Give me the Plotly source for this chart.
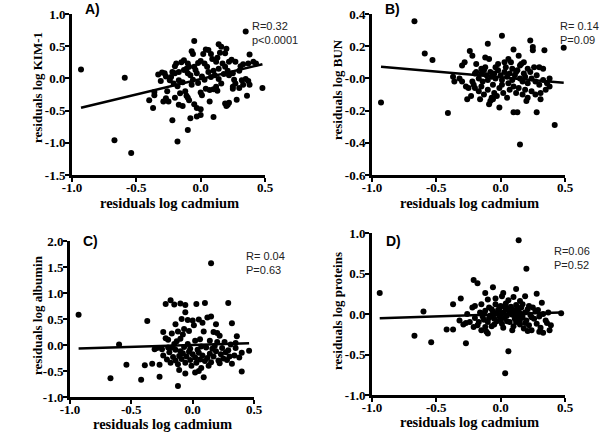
import plotly.graph_objects as go

# ---------------- data ----------------
a_x = [-0.93,-0.59,-0.67,-0.54,-0.40,-0.37,-0.36,-0.22,-0.18,-0.10,0.35,0.48,0.38,0.41,0.36,
       -0.05,-0.07,-0.06,0.14,0.16,0.20,0.06,0.02,0.19,0.24,0.22,0.33,0.37,0.43,0.09,
       0.12,0.13,0.00,-0.02,-0.15,-0.19,-0.20,-0.10,-0.09,-0.28,-0.30,-0.27,-0.22,-0.20,-0.17,
       -0.13,-0.11,-0.10,-0.05,-0.04,-0.03,0.03,0.05,0.06,0.14,0.17,0.19,-0.24,-0.21,-0.17,
       0.01,0.03,0.11,0.14,0.25,0.26,0.27,0.25,0.32,0.35,0.37,0.38,0.25,0.30,0.04,
       0.07,0.10,0.13,0.00,0.01,-0.12,-0.10,-0.09,-0.11,-0.16,-0.36,-0.29,-0.27,-0.25,-0.17,
       -0.14,-0.03,0.00,0.07,0.19,0.21,0.22,0.20,-0.03,0.00,0.10,-0.08,-0.31,-0.33,-0.26,
       -0.18,-0.14,-0.07,-0.02,0.08,0.10,0.18,0.21,0.30,0.31,0.27,0.08,-0.13,-0.08,-0.06,
       0.16,0.12,0.33,0.28,-0.05,-0.20,0.15,0.04,-0.23,0.22]
a_y = [0.14,0.01,-0.96,-1.16,-0.34,-0.46,-0.21,-0.65,-0.98,-0.80,0.73,-0.15,0.37,0.26,-0.27,
       0.58,0.42,0.38,0.53,0.49,0.46,0.44,0.38,0.39,0.29,0.26,0.22,0.23,0.23,0.30,
       0.26,0.32,0.27,0.24,0.25,0.23,0.19,0.23,0.18,0.08,0.09,0.03,0.10,0.08,0.10,
       0.13,0.15,0.08,0.18,0.13,0.08,0.23,0.18,0.10,0.15,0.23,0.18,-0.03,-0.08,-0.03,
       0.03,-0.02,0.05,-0.01,0.08,-0.02,-0.08,-0.13,-0.03,-0.01,-0.04,-0.10,-0.16,-0.15,-0.16,
       -0.18,-0.17,-0.19,-0.22,-0.26,-0.20,-0.30,-0.34,-0.27,-0.23,-0.26,-0.36,-0.31,-0.36,-0.41,
       -0.43,-0.46,-0.48,-0.36,-0.39,-0.41,-0.38,-0.43,-0.59,-0.57,-0.60,-0.62,-0.04,0.06,-0.20,
       -0.12,-0.06,-0.10,-0.07,0.02,0.12,0.07,0.12,0.12,0.19,0.26,0.38,0.28,0.05,-0.02,
       -0.08,-0.13,-0.10,-0.33,-0.40,-0.30,0.40,0.45,0.02,0.05]

b_x = [-0.93,-0.67,-0.59,-0.53,-0.41,0.15,0.42,0.49,0.01,-0.10,0.23,0.25,0.25,0.34,0.10,
       0.13,0.28,0.10,-0.37,-0.36,-0.30,-0.28,-0.24,-0.22,-0.19,-0.15,-0.12,-0.09,-0.02,0.03,
       0.06,0.08,0.15,0.18,0.21,0.30,0.33,-0.30,-0.27,-0.25,-0.22,-0.20,-0.17,-0.15,-0.13,
       -0.11,-0.10,-0.08,-0.07,-0.05,-0.04,-0.02,0.00,0.01,0.03,0.05,0.07,0.09,0.11,0.13,
       0.15,0.17,0.19,0.21,0.24,0.27,0.30,0.33,0.36,0.38,-0.26,-0.23,-0.20,-0.17,-0.15,
       -0.13,-0.10,-0.08,-0.07,-0.05,-0.03,-0.01,0.01,0.02,0.05,0.07,0.10,0.12,0.14,0.17,
       0.19,0.21,0.24,0.27,0.31,0.35,-0.09,-0.06,0.20,-0.19,-0.12,-0.04,0.04,0.12,0.16,
       0.23,0.28,-0.14,0.06,0.18,-0.32,0.38,-0.06,0.09,-0.21,0.26,0.14,-0.01,0.31,-0.16]
b_y = [-0.15,0.355,0.155,0.115,-0.215,-0.41,-0.29,0.19,0.265,0.215,0.235,0.195,0.175,0.175,0.18,
       -0.21,-0.21,-0.21,0.01,-0.02,0.08,0.10,0.17,0.14,0.09,0.06,0.13,0.12,0.09,0.10,
       0.12,0.10,0.08,0.10,0.06,0.07,0.06,-0.02,-0.05,-0.06,-0.02,0.03,0.00,0.03,0.05,
       0.02,-0.01,0.04,0.01,0.03,0.00,0.05,0.02,-0.01,0.04,0.01,0.03,-0.01,0.02,0.05,
       0.00,-0.02,0.01,-0.03,0.00,-0.02,-0.04,-0.01,-0.03,-0.05,-0.13,-0.11,-0.06,-0.08,-0.05,
       -0.10,-0.07,-0.14,-0.12,-0.09,-0.11,-0.06,-0.04,-0.09,-0.12,-0.07,-0.05,-0.09,-0.06,-0.10,
       -0.07,-0.12,-0.08,-0.10,-0.09,-0.07,-0.16,-0.13,-0.14,0.04,0.07,0.07,0.07,0.04,0.09,
       0.04,0.02,-0.02,-0.03,0.03,0.00,0.00,-0.04,0.06,-0.04,0.07,0.14,-0.18,-0.13,-0.13]

c_x = [-0.93,-0.60,-0.54,-0.67,-0.42,-0.37,-0.39,0.15,-0.18,-0.22,-0.15,-0.10,-0.06,0.03,0.10,
       0.29,-0.06,-0.09,-0.04,0.00,0.05,0.12,0.15,-0.14,0.32,-0.24,-0.17,-0.12,-0.07,-0.03,
       0.09,0.17,0.20,0.22,-0.22,-0.20,-0.13,-0.10,0.02,0.06,0.14,0.20,0.36,-0.31,-0.29,
       -0.20,-0.14,-0.07,-0.02,0.07,0.16,0.29,0.35,-0.33,-0.27,-0.27,-0.24,-0.21,-0.18,-0.16,
       -0.14,-0.12,-0.11,-0.09,-0.08,-0.06,-0.05,-0.03,-0.02,0.00,0.02,0.03,0.05,0.06,0.08,
       0.10,0.12,0.14,0.15,0.17,0.19,0.21,0.23,0.25,0.27,0.30,0.32,0.34,0.38,0.40,
       0.46,-0.06,0.02,0.05,0.09,-0.12,0.07,-0.17,-0.10,-0.04,0.04,0.11,0.18,0.24,0.31,
       0.26,-0.25,-0.15,0.01,0.08,-0.19,0.13,0.22,-0.01,0.35,-0.08,0.19,-0.11,0.28,0.40]
c_y = [0.58,0.01,-0.38,-0.64,-0.67,0.46,-0.39,1.57,0.86,0.79,0.78,0.80,0.77,0.79,0.81,
       0.81,0.63,0.50,0.48,0.47,0.49,0.53,0.55,0.40,0.42,0.25,0.22,0.26,0.31,0.27,
       0.26,0.25,0.23,0.18,0.13,0.10,0.07,0.12,0.08,0.11,0.08,0.06,0.17,-0.08,-0.06,
       -0.05,-0.09,-0.04,-0.07,-0.03,-0.07,-0.10,-0.06,-0.36,-0.38,-0.61,-0.20,-0.28,-0.34,-0.23,
       -0.30,-0.37,-0.21,-0.27,-0.16,-0.34,-0.22,-0.13,-0.29,-0.18,-0.24,-0.34,-0.15,-0.28,-0.20,
       -0.31,-0.25,-0.17,-0.33,-0.22,-0.12,-0.30,-0.18,-0.26,-0.14,-0.22,-0.36,-0.20,-0.24,-0.51,
       -0.11,-0.55,-0.53,-0.50,-0.62,-0.79,-0.44,-0.05,-0.12,0.02,-0.09,-0.05,-0.02,-0.06,0.01,
       0.06,-0.08,0.02,0.38,0.43,-0.14,-0.40,-0.35,-0.40,0.04,0.20,0.40,-0.48,-0.29,-0.15]

d_x = [-0.94,-0.60,-0.67,-0.54,-0.27,0.14,0.20,0.06,0.035,-0.21,-0.18,-0.06,-0.31,-0.37,0.28,
       0.32,0.47,-0.42,-0.37,0.12,0.19,0.10,0.02,0.01,-0.12,-0.10,0.15,0.22,-0.32,-0.29,
       -0.26,-0.22,-0.20,-0.18,-0.16,-0.15,-0.13,-0.12,-0.11,-0.10,-0.09,-0.08,-0.07,-0.06,-0.05,
       -0.04,-0.03,-0.02,-0.01,0.00,0.01,0.02,0.03,0.04,0.05,0.06,0.07,0.08,0.09,0.10,
       0.11,0.12,0.13,0.14,0.15,0.16,0.17,0.18,0.19,0.20,0.21,0.22,0.23,0.24,0.26,
       0.27,0.28,0.30,0.31,0.33,0.33,0.35,0.37,0.38,0.39,0.36,-0.24,-0.21,-0.17,-0.14,
       -0.12,-0.09,-0.07,-0.05,-0.03,-0.01,0.01,0.03,0.05,0.07,0.09,0.11,0.13,0.15,0.17,
       0.19,-0.10,-0.20,-0.13,-0.06,0.00,0.04,0.08,0.12,0.16,0.25,0.29,0.24,-0.04,0.06,
       0.30,0.21,-0.15,-0.27,0.02,0.10]
d_y = [0.26,0.03,-0.27,-0.35,-0.36,0.91,0.56,-0.46,-0.73,0.42,0.38,0.33,0.19,0.12,0.25,
       0.14,0.01,-0.19,-0.19,0.31,0.22,0.21,0.26,0.22,0.26,0.18,0.16,0.10,-0.08,-0.13,
       0.00,0.08,-0.05,-0.14,0.02,0.12,-0.07,0.04,-0.22,-0.10,0.08,-0.02,-0.15,0.03,-0.06,
       0.12,-0.09,0.05,-0.03,0.10,-0.12,0.02,-0.05,0.13,-0.02,0.07,-0.10,0.01,-0.20,0.05,
       -0.06,0.11,-0.03,0.03,-0.13,0.08,-0.04,-0.18,0.02,-0.08,0.06,-0.14,-0.01,-0.20,-0.06,
       0.04,-0.12,-0.03,-0.17,0.00,-0.23,-0.08,0.02,-0.20,-0.14,-0.11,-0.10,-0.16,-0.10,-0.03,
       -0.16,-0.05,0.06,-0.13,0.01,0.07,0.01,0.09,-0.09,0.03,-0.01,0.02,0.07,-0.07,0.12,
       -0.11,-0.24,0.10,0.01,-0.01,-0.07,0.05,0.09,-0.10,0.00,0.08,0.05,-0.04,0.19,0.17,
       -0.22,-0.21,-0.20,-0.11,-0.17,-0.15]

# regression lines as drawn in the reference
fit_slope = [0.48, -0.07, 0.07, 0.05]
fit_intercept = [-0.01, 0.007, 0.0, -0.004]

y_titles = ["residuals log KIM-1", "residuals log BUN", "residuals log albumin", "residuals log proteins"]
x_title = "residuals log cadmium"
panel_letters = ["A)", "B)", "C)", "D)"]
stat_r = ["R=0.32", "R= 0.14", "R= 0.04", "R=0.06"]
stat_p = ["p<0.0001", "P=0.09", "P=0.63", "P=0.52"]

x_ticks = [-1.0, -0.5, 0.0, 0.5]
x_ticktext = ["-1.0", "-0.5", "0.0", "0.5"]
y_ticks = [[-1.5, -1.0, -0.5, 0.0, 0.5, 1.0],
           [-0.6, -0.4, -0.2, 0.0, 0.2, 0.4],
           [-1.0, -0.5, 0.0, 0.5, 1.0, 1.5, 2.0],
           [-1.0, -0.5, 0.0, 0.5, 1.0]]
y_ticktext = [["-1.5", "-1.0", "-0.5", "0.0", "0.5", "1.0"],
              ["-0.6", "-0.4", "-0.2", "-0.0", "0.2", "0.4"],
              ["-1.0", "-0.5", "0.0", "0.5", "1.0", "1.5", "2.0"],
              ["-1.0", "-0.5", "0.0", "0.5", "1.0"]]

# ---------------- layout geometry (pixels in the final page) ----------------
W, H = 600, 434
# (left, right, top, bottom) of each plot area in pixels
boxes = [(72, 265, 14, 175), (372, 565, 14, 175), (70, 254, 241, 397), (372, 565, 233, 395)]
letter_pos = [(92, 9), (392, 9), (90, 241), (393, 241)]
stat_pos = [(250, 26), (558, 26), (244, 256), (552, 251)]
xtitle_pos = [(169, 203), (469, 203), (162, 424), (469, 422)]
ytitle_pos = [(37, 88), (337, 90), (37, 315), (337, 311)]

def px(v):
    return v / W

def py(v):
    return 1 - v / H

series = [(a_x, a_y), (b_x, b_y), (c_x, c_y), (d_x, d_y)]

fig = go.Figure()
serif = "Liberation Serif"
sans = "Liberation Sans"

def bold(labels):
    return ["<b>" + s + "</b>" for s in labels]

annotations = []
for i, ((xs, ys), (l, r, t, b)) in enumerate(zip(series, boxes)):
    n = i + 1
    xa = "x" if n == 1 else f"x{n}"
    ya = "y" if n == 1 else f"y{n}"
    fig.add_trace(go.Scatter(x=xs, y=ys, mode="markers", xaxis=xa, yaxis=ya,
                             marker=dict(color="black", size=6), cliponaxis=False,
                             showlegend=False, hoverinfo="skip"))
    x0, x1 = min(xs), max(xs)
    lx = [x0, x1]
    ly = [fit_intercept[i] + fit_slope[i] * v for v in lx]
    fig.add_trace(go.Scatter(x=lx, y=ly, mode="lines", xaxis=xa, yaxis=ya,
                             line=dict(color="black", width=2.5),
                             showlegend=False, hoverinfo="skip"))
    xkey = "xaxis" if n == 1 else f"xaxis{n}"
    ykey = "yaxis" if n == 1 else f"yaxis{n}"
    yt = y_ticks[i]
    common = dict(automargin=False, showline=True, linewidth=3, linecolor="black",
                  ticks="outside", ticklen=4, tickwidth=2, tickcolor="black",
                  showgrid=False, zeroline=False,
                  tickfont=dict(family=serif, size=13, color="black"))
    fig.update_layout(**{
        xkey: dict(domain=[px(l), px(r)], anchor=ya, range=[-1.0, 0.5],
                   tickvals=x_ticks, ticktext=bold(x_ticktext),
                   ticklabelstandoff=-6, **common),
        ykey: dict(domain=[py(b), py(t)], anchor=xa, range=[yt[0], yt[-1]],
                   tickvals=yt, ticktext=bold(y_ticktext[i]),
                   ticklabelstandoff=-3, **common),
    })
    tx, ty = xtitle_pos[i]
    annotations.append(dict(x=px(tx), y=py(ty), xref="paper", yref="paper",
                            text="<b>" + x_title + "</b>", showarrow=False,
                            xanchor="center", yanchor="middle", borderpad=0,
                            font=dict(family=serif, size=14.5, color="black")))
    vx, vy = ytitle_pos[i]
    annotations.append(dict(x=px(vx), y=py(vy), xref="paper", yref="paper",
                            text="<b>" + y_titles[i] + "</b>", showarrow=False,
                            textangle=-90, xanchor="center", yanchor="middle",
                            font=dict(family=serif, size=13, color="black")))
    lxp, lyp = letter_pos[i]
    annotations.append(dict(x=px(lxp), y=py(lyp), xref="paper", yref="paper",
                            text="<b>" + panel_letters[i] + "</b>", showarrow=False,
                            xanchor="center", yanchor="middle", borderpad=0,
                            font=dict(family=sans, size=14, color="black")))
    sxp, syp = stat_pos[i]
    annotations.append(dict(x=px(sxp), y=py(syp), xref="paper", yref="paper",
                            text=stat_r[i], showarrow=False, xanchor="left", yanchor="middle",
                            font=dict(family=sans, size=11, color="#222222")))
    annotations.append(dict(x=px(sxp), y=py(syp + 14), xref="paper", yref="paper",
                            text=stat_p[i], showarrow=False, xanchor="left", yanchor="middle",
                            font=dict(family=sans, size=11, color="#222222")))

fig.update_layout(width=W, height=H, margin=dict(l=0, r=0, t=0, b=0, autoexpand=False),
                  paper_bgcolor="white", plot_bgcolor="white",
                  annotations=annotations)

# remove the browser's default 8px body margin so the 600x434 figure fills the window
fig.write_html("out.html", config={"displayModeBar": False},
               post_script="document.body.style.margin='0px';document.body.style.overflow='hidden';")
